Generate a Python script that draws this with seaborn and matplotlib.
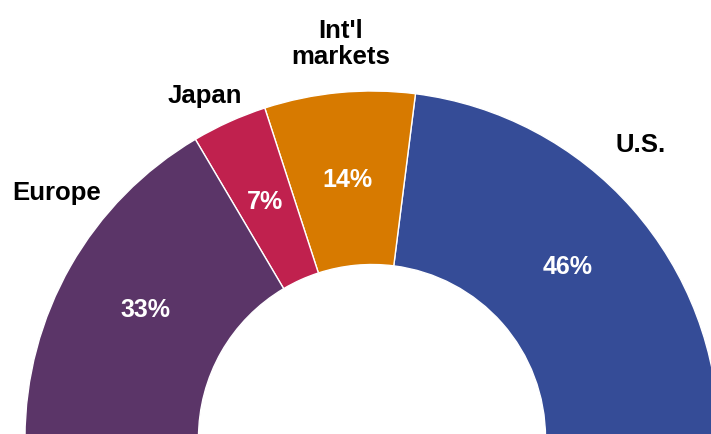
import matplotlib
matplotlib.use("Agg")
import matplotlib.pyplot as plt
import seaborn as sns
import numpy as np

# Data
categories = ["U.S.", "Int'l\nmarkets", "Japan", "Europe"]
shares = [46, 14, 7, 33]
colors = ["#354C97", "#D77A00", "#C0214E", "#5B3568"]

sns.set_theme(style="white")
plt.rcParams['font.family'] = ['Liberation Sans', 'DejaVu Sans']

W, H = 711, 435
fig = plt.figure(figsize=(W / 100, H / 100), dpi=100)
ax = fig.add_axes([0, 0, 1, 1])

values = shares + [sum(shares)]          # hidden lower half
cols = colors + ["none"]

wedges, texts, autotexts = ax.pie(
    values, colors=cols, startangle=0, counterclock=True, radius=1.0,
    wedgeprops=dict(width=0.5, edgecolor="white", linewidth=1.0),
    autopct=lambda p: "", pctdistance=0.75, labels=None,
)
wedges[-1].set_edgecolor("none")
wedges[-1].set_facecolor("none")

for i, v in enumerate(shares):
    t = autotexts[i]
    t.set_text(f"{v}%")
    t.set_color("white")
    t.set_fontsize(18)
    t.set_fontweight("bold")
autotexts[-1].set_text("")

# outer label positions (layout, polar: angle deg, radius)
label_pos = [(47.6, 1.147), (94.6, 1.142), (115.9, 1.10), (142.0, 1.152)]
for name, (ang, r) in zip(categories, label_pos):
    a = np.deg2rad(ang)
    ax.text(r * np.cos(a), r * np.sin(a), name, ha="center", va="center",
            fontsize=18.5, fontweight="bold", color="black", linespacing=1.1)

# geometry in pixels: center and outer radius
cx, cy, R = 372, 439, 347
ax.set_aspect('auto')
ax.set_xlim(-cx / R, (W - cx) / R)
ax.set_ylim((cy - H) / R, cy / R)
ax.axis("off")
fig.savefig("out.png", dpi=100)
